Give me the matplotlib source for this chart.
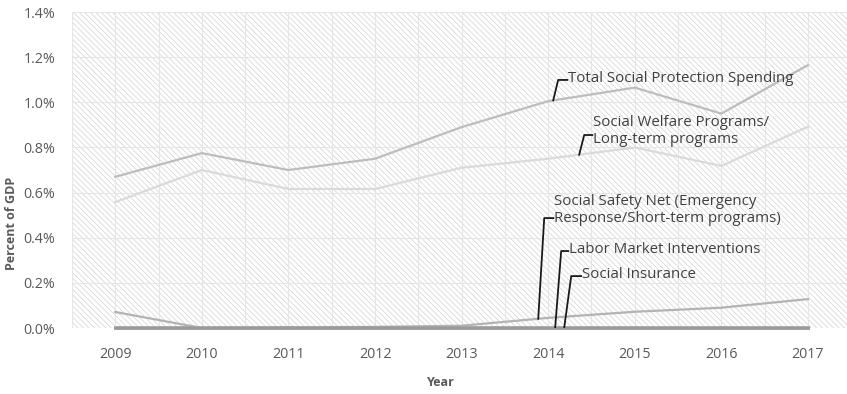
import numpy as np
import matplotlib
matplotlib.use('Agg')
import matplotlib.pyplot as plt
from matplotlib.patches import Rectangle

plt.rcParams['font.family'] = ['Open Sans', 'DejaVu Sans']
plt.rcParams['hatch.color'] = '#d2d2d2'
plt.rcParams['hatch.linewidth'] = 0.5

years = ['2009', '2010', '2011', '2012', '2013', '2014', '2015', '2016', '2017']

# percent of GDP
total = [0.67, 0.775, 0.70, 0.75, 0.89, 1.005, 1.065, 0.95, 1.165]
welfare = [0.558, 0.70, 0.616, 0.616, 0.71, 0.75, 0.80, 0.718, 0.892]
safety_net = [0.071, 0.0, 0.003, 0.005, 0.01, 0.045, 0.072, 0.09, 0.128]
labor = [0.004, 0.004, 0.004, 0.004, 0.004, 0.004, 0.004, 0.004, 0.004]
insurance = [0.001, 0.001, 0.001, 0.001, 0.001, 0.001, 0.001, 0.001, 0.001]

x = np.arange(len(years))

fig = plt.figure(figsize=(8.47, 3.94), dpi=100)
ax = fig.add_axes([0.085, 0.1675, 0.920, 0.802])

# hatched plot background
ax.add_patch(Rectangle((0, 0), 1, 1, transform=ax.transAxes, facecolor='white',
                       edgecolor='#d2d2d2', hatch='\\\\\\\\\\\\', linewidth=0, zorder=0))

ax.plot(x, welfare, color='#dadada', lw=1.6, zorder=3)
ax.plot(x, total, color='#bdbdbd', lw=1.6, zorder=3)
ax.plot(x, safety_net, color='#b3b3b3', lw=1.6, zorder=3)
ax.plot(x, labor, color='#a3a3a3', lw=2.0, zorder=3, clip_on=False)
ax.plot(x, insurance, color='#999999', lw=2.0, zorder=3, clip_on=False)

ax.set_xlim(-0.5, 8.5)
ax.set_ylim(0, 1.4)
ax.set_xticks(x)
ax.set_xticklabels(years)
ax.set_xticks(np.arange(-0.5, 9, 1), minor=True)
ax.set_yticks(np.arange(0, 1.41, 0.2))
ax.set_yticklabels([f'{v:.1f}%' for v in np.arange(0, 1.41, 0.2)])
ax.tick_params(axis='both', which='both', length=0, labelsize=10.3, colors='#595959')
ax.tick_params(axis='x', pad=14)
ax.tick_params(axis='y', pad=12)
ax.grid(True, which='both', color='#e6e6e6', lw=0.8, zorder=1)
ax.set_axisbelow(True)
for s in ax.spines.values():
    s.set_visible(False)

fig.text(0.014, 0.432, 'Percent of GDP', rotation=90, ha='center', va='center',
         fontsize=9, fontweight='bold', color='#595959')
fig.text(0.52, 0.03, 'Year', ha='center', va='center',
         fontsize=9, fontweight='bold', color='#595959')

# leader-line labels: (text, series, anchor x, elbow x, elbow y, text x, text y)
labels = [
    ('Total Social Protection Spending', total, 5.058, 5.115, 1.099, 5.231, 1.106),
    ('Social Welfare Programs/\nLong-term programs', welfare, 5.358, 5.416, 0.855, 5.52, 0.872),
    ('Social Safety Net (Emergency\nResponse/Short-term programs)', safety_net, 4.885, 4.954, 0.487, 5.07, 0.522),
    ('Labor Market Interventions', labor, 5.081, 5.150, 0.341, 5.242, 0.347),
    ('Social Insurance', insurance, 5.185, 5.266, 0.230, 5.39, 0.236),
]
for text, series, ax_x, ex, ey, tx, ty in labels:
    ay = np.interp(ax_x, x, series)
    ax.plot([ax_x, ex, tx - 0.01], [ay, ey, ey], color='#1a1a1a', lw=1.3, zorder=4)
    ax.text(tx, ty, text, ha='left', va='center', fontsize=10.8, color='#404040',
            linespacing=1.22, zorder=5)

fig.savefig('out.png', dpi=100)
